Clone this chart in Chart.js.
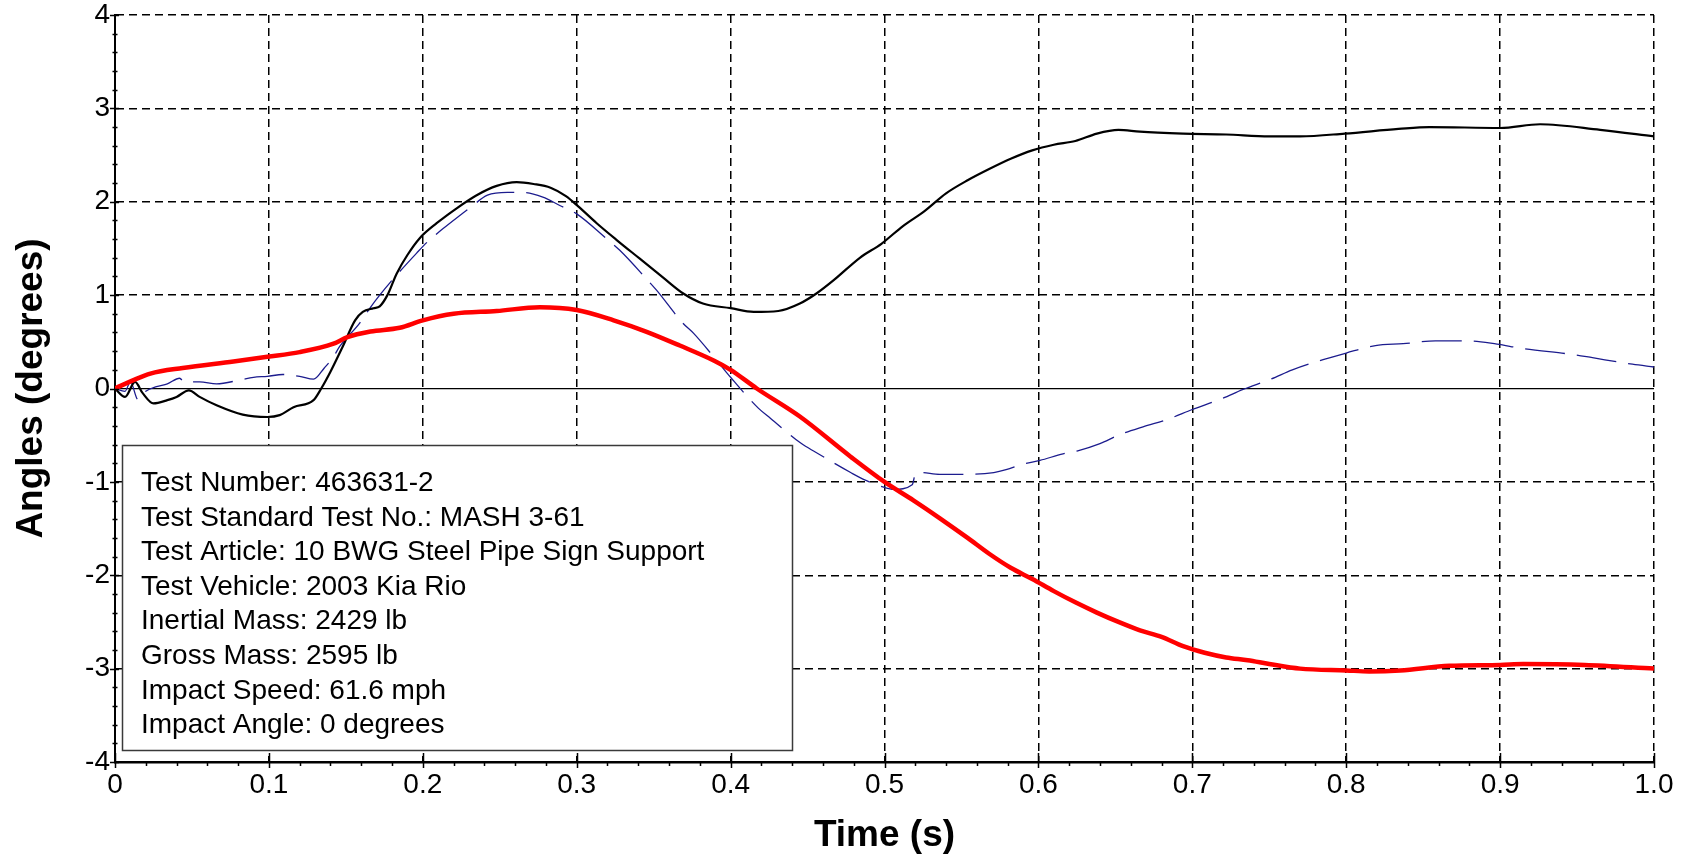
<!DOCTYPE html>
<html>
<head>
<meta charset="utf-8">
<script src="https://cdn.jsdelivr.net/npm/chart.js@4"></script>
<style>
html,body{margin:0;padding:0;background:#fff;}
#wrap{width:1686px;height:859px;position:relative;}
</style>
</head>
<body>
<div id="wrap"><canvas id="c" width="1686" height="859"></canvas></div>
<script>
// ---- data ----
const blackT = [0, 0.0065, 0.013, 0.018, 0.025, 0.034, 0.04, 0.048, 0.055, 0.066, 0.083, 0.099, 0.107, 0.116, 0.129, 0.134, 0.14, 0.148, 0.156, 0.161, 0.168, 0.172, 0.177, 0.183, 0.19, 0.198, 0.209, 0.222, 0.235, 0.248, 0.261, 0.272, 0.283, 0.293, 0.301, 0.313, 0.326, 0.341, 0.356, 0.369, 0.382, 0.4, 0.415, 0.431, 0.445, 0.456, 0.467, 0.484, 0.498, 0.512, 0.526, 0.54, 0.554, 0.568, 0.582, 0.596, 0.61, 0.624, 0.638, 0.652, 0.666, 0.694, 0.722, 0.75, 0.77, 0.799, 0.834, 0.854, 0.9, 0.926, 0.965, 1.0];
const blackV = [0, -0.09, 0.07, -0.05, -0.16, -0.125, -0.09, -0.02, -0.09, -0.18, -0.28, -0.305, -0.285, -0.2, -0.125, 0, 0.18, 0.45, 0.73, 0.82, 0.86, 0.88, 1.0, 1.23, 1.43, 1.61, 1.77, 1.93, 2.07, 2.17, 2.21, 2.19, 2.15, 2.06, 1.95, 1.77, 1.59, 1.39, 1.19, 1.02, 0.91, 0.86, 0.82, 0.83, 0.91, 1.02, 1.16, 1.4, 1.55, 1.74, 1.9, 2.09, 2.23, 2.35, 2.46, 2.55, 2.61, 2.65, 2.73, 2.77, 2.75, 2.73, 2.72, 2.70, 2.70, 2.73, 2.78, 2.80, 2.79, 2.83, 2.77, 2.70];

const redT = [0, 0.012, 0.023, 0.044, 0.077, 0.099, 0.12, 0.142, 0.151, 0.166, 0.185, 0.2, 0.22, 0.248, 0.276, 0.3, 0.324, 0.345, 0.367, 0.389, 0.4, 0.417, 0.445, 0.478, 0.5, 0.519, 0.536, 0.554, 0.568, 0.582, 0.596, 0.61, 0.624, 0.638, 0.652, 0.666, 0.68, 0.694, 0.708, 0.722, 0.736, 0.75, 0.77, 0.8, 0.815, 0.835, 0.867, 0.9, 0.915, 0.955, 1.0];
const redV = [0, 0.09, 0.16, 0.22, 0.29, 0.34, 0.39, 0.48, 0.55, 0.61, 0.65, 0.73, 0.80, 0.83, 0.87, 0.84, 0.73, 0.61, 0.46, 0.30, 0.2, 0, -0.30, -0.73, -1.0, -1.2, -1.39, -1.6, -1.77, -1.92, -2.04, -2.17, -2.29, -2.4, -2.5, -2.59, -2.66, -2.76, -2.83, -2.88, -2.91, -2.95, -3.0, -3.02, -3.03, -3.02, -2.97, -2.96, -2.95, -2.96, -3.0];

const blueT = [0, 0.0065, 0.01, 0.015, 0.02, 0.027, 0.034, 0.042, 0.045, 0.055, 0.066, 0.081, 0.09, 0.099, 0.109, 0.12, 0.129, 0.136, 0.142, 0.146, 0.159, 0.166, 0.172, 0.179, 0.196, 0.203, 0.213, 0.223, 0.231, 0.242, 0.255, 0.265, 0.278, 0.289, 0.3, 0.319, 0.328, 0.345, 0.352, 0.369, 0.376, 0.389, 0.4, 0.418, 0.426, 0.446, 0.455, 0.478, 0.486, 0.5, 0.506, 0.518, 0.52, 0.523, 0.536, 0.553, 0.571, 0.579, 0.59, 0.601, 0.616, 0.625, 0.64, 0.652, 0.668, 0.684, 0.7, 0.719, 0.733, 0.751, 0.765, 0.785, 0.8, 0.819, 0.837, 0.858, 0.879, 0.898, 0.914, 0.949, 0.96, 0.986, 1.0];
const blueV = [0, -0.03, 0.07, -0.12, -0.03, 0.02, 0.05, 0.11, 0.07, 0.07, 0.05, 0.09, 0.12, 0.13, 0.15, 0.13, 0.10, 0.22, 0.34, 0.45, 0.70, 0.87, 1.0, 1.14, 1.45, 1.57, 1.71, 1.84, 1.94, 2.07, 2.10, 2.10, 2.05, 1.96, 1.87, 1.61, 1.48, 1.18, 1.05, 0.70, 0.59, 0.34, 0.12, -0.21, -0.32, -0.59, -0.68, -0.90, -0.97, -1.06, -1.08, -1.03, -0.92, -0.90, -0.92, -0.92, -0.90, -0.87, -0.81, -0.77, -0.70, -0.67, -0.59, -0.50, -0.41, -0.33, -0.225, -0.11, -0.01, 0.10, 0.20, 0.31, 0.38, 0.46, 0.48, 0.51, 0.51, 0.475, 0.43, 0.36, 0.33, 0.26, 0.23];

const xTickLabels = ['0', '0.1', '0.2', '0.3', '0.4', '0.5', '0.6', '0.7', '0.8', '0.9', '1.0'];
const yTickLabels = ['-4', '-3', '-2', '-1', '0', '1', '2', '3', '4'];

const infoLines = [
  'Test Number: 463631-2',
  'Test Standard Test No.: MASH 3-61',
  'Test Article: 10 BWG Steel Pipe Sign Support',
  'Test Vehicle: 2003 Kia Rio',
  'Inertial Mass: 2429 lb',
  'Gross Mass: 2595 lb',
  'Impact Speed: 61.6 mph',
  'Impact Angle: 0 degrees'
];

const FONT = "'Liberation Sans', Arial, Helvetica, sans-serif";

function pts(ts, vs) { return ts.map((t, i) => ({ x: t, y: vs[i] })); }

// info box (drawn over grid, under the curves)
const infoBox = {
  id: 'infoBox',
  beforeDatasetsDraw(chart) {
    const ctx = chart.ctx;
    const L = 122, T = 445, W = 670, H = 305;
    ctx.save();
    ctx.fillStyle = '#ffffff';
    ctx.fillRect(L, T, W, H);
    ctx.strokeStyle = '#3a3a3a';
    ctx.lineWidth = 1.5;
    ctx.strokeRect(L + 0.5, T + 0.5, W, H);
    ctx.fillStyle = '#000000';
    ctx.font = '28px ' + FONT;
    ctx.textBaseline = 'alphabetic';
    ctx.textAlign = 'left';
    infoLines.forEach((s, i) => ctx.fillText(s, 141, 491 + i * 34.6));
    ctx.restore();
  }
};

// major / minor tick marks crossing the axes
const tickMarks = {
  id: 'tickMarks',
  afterDraw(chart) {
    const ctx = chart.ctx;
    const xs = chart.scales.x, ys = chart.scales.y;
    const bottom = chart.chartArea.bottom, left = chart.chartArea.left;
    ctx.save();
    ctx.strokeStyle = '#000';
    ctx.lineWidth = 1.5;
    ctx.beginPath();
    for (let i = 0; i <= 50; i++) {
      const px = Math.round(xs.getPixelForValue(i * 0.02)) + 0.5;
      if (i % 5 === 0) { ctx.moveTo(px, bottom - 9); ctx.lineTo(px, bottom + 6); }
      else { ctx.moveTo(px, bottom); ctx.lineTo(px, bottom + 4); }
    }
    for (let i = 0; i <= 40; i++) {
      const py = Math.round(ys.getPixelForValue(-4 + i * 0.2)) + 0.5;
      if (i % 5 === 0) { ctx.moveTo(left - 5, py); ctx.lineTo(left + 4, py); }
      else { ctx.moveTo(left - 2.5, py); ctx.lineTo(left + 2.5, py); }
    }
    ctx.stroke();
    ctx.restore();
  }
};

new Chart(document.getElementById('c'), {
  type: 'line',
  data: {
    datasets: [
      { label: 'Roll', data: pts(redT, redV), borderColor: '#ff0000', borderWidth: 4.5,
        pointRadius: 0, cubicInterpolationMode: 'monotone', fill: false },
      { label: 'Pitch', data: pts(blackT, blackV), borderColor: '#000000', borderWidth: 2.2,
        pointRadius: 0, cubicInterpolationMode: 'monotone', fill: false },
      { label: 'Yaw', data: pts(blueT, blueV), borderColor: '#1c1c8e', borderWidth: 1.3,
        borderDash: [40, 12], pointRadius: 0, cubicInterpolationMode: 'monotone', fill: false }
    ]
  },
  options: {
    responsive: false,
    animation: false,
    devicePixelRatio: 1,
    layout: { padding: { top: 15, right: 32, bottom: 0, left: 0 } },
    plugins: { legend: { display: false }, tooltip: { enabled: false } },
    scales: {
      x: {
        type: 'linear', position: 'bottom', min: 0, max: 1,
        ticks: {
          stepSize: 0.1, autoSkip: false, maxRotation: 0, padding: 6,
          color: '#000', font: { family: FONT, size: 28 },
          callback: (v, i) => xTickLabels[i]
        },
        grid: { color: '#000', lineWidth: 1.5, drawTicks: false },
        border: { display: true, color: '#000', width: 2.5, dash: ctx => ctx.tick ? [8, 5] : [] },
        title: { display: true, text: 'Time (s)', color: '#000',
          font: { family: FONT, size: 37, weight: 'bold' }, padding: { top: 0, bottom: 1 } },
        afterFit: s => { s.height = 97; }
      },
      y: {
        type: 'linear', min: -4, max: 4,
        ticks: {
          stepSize: 1, autoSkip: false, padding: 0,
          color: '#000', font: { family: FONT, size: 28, lineHeight: 1 },
          callback: (v, i) => yTickLabels[i]
        },
        grid: { color: '#000', lineWidth: ctx => (ctx.tick && ctx.tick.value === 0) ? 1.2 : 1.5,
          drawTicks: true, tickLength: 5, tickColor: 'rgba(0,0,0,0)' },
        border: { display: true, color: '#000', width: 2, dash: ctx => (ctx.tick && ctx.tick.value !== 0) ? [8, 5] : [] },
        title: { display: true, text: 'Angles (degrees)', color: '#000',
          font: { family: FONT, size: 37, weight: 'bold' }, padding: { top: 10, bottom: 0 } },
        afterFit: s => { s.width = 115; }
      }
    }
  },
  plugins: [infoBox, tickMarks]
});
</script>
</body>
</html>
